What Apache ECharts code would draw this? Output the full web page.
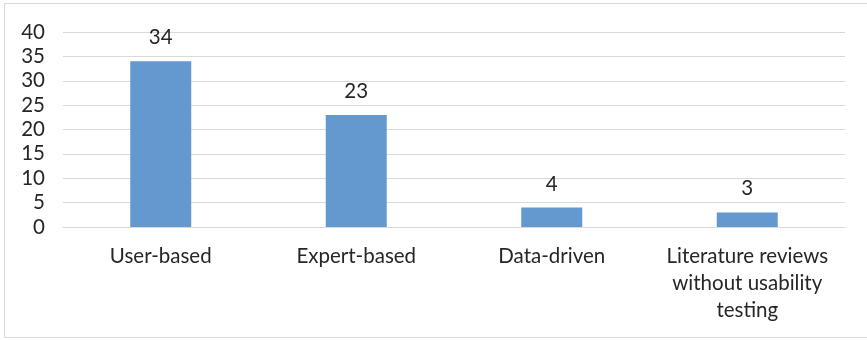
<!DOCTYPE html>
<html>
<head>
<meta charset="utf-8">
<script src="https://cdn.jsdelivr.net/npm/echarts@6/dist/echarts.min.js"></script>
<style>
  html, body { margin: 0; padding: 0; background: #fff; }
  #chart { width: 867px; height: 340px; }
</style>
</head>
<body>
<div id="chart"></div>
<script>
// Usability evaluation approaches and how many studies used each
const categories = ['User-based', 'Expert-based', 'Data-driven', 'Literature reviews\nwithout usability\ntesting'];
const studyCounts = [34, 23, 4, 3];
const yTicks = { min: 0, max: 40, interval: 5 };

const textColor = '#262626';
const fontFamily = 'Lato, "Open Sans", "Liberation Sans", sans-serif';

const chart = echarts.init(document.getElementById('chart'), null, { renderer: 'canvas' });
chart.setOption({
  animation: false,
  backgroundColor: '#fff',
  graphic: [{
    type: 'rect',
    shape: { x: 4.5, y: 3.5, width: 880, height: 334 },
    style: { fill: 'none', stroke: '#d9d9d9', lineWidth: 1 },
    silent: true
  }],
  grid: { left: 63, right: 22, top: 32, bottom: 113 },
  xAxis: {
    type: 'category',
    data: categories,
    axisLine: { lineStyle: { color: '#d9d9d9', width: 1 } },
    axisTick: { show: false },
    axisLabel: {
      color: textColor, fontFamily, fontSize: 20.5, lineHeight: 27,
      margin: 16, interval: 0
    }
  },
  yAxis: {
    type: 'value',
    min: yTicks.min, max: yTicks.max, interval: yTicks.interval,
    axisLine: { show: false },
    axisTick: { show: false },
    splitLine: { lineStyle: { color: '#d9d9d9', width: 1 } },
    axisLabel: { color: textColor, fontFamily, fontSize: 20.5, margin: 18 }
  },
  series: [{
    type: 'bar',
    data: studyCounts,
    barWidth: 61,
    itemStyle: { color: '#6399cf' },
    label: {
      show: true, position: 'top', distance: 13,
      color: textColor, fontFamily, fontSize: 20.5
    }
  }]
});
</script>
</body>
</html>
